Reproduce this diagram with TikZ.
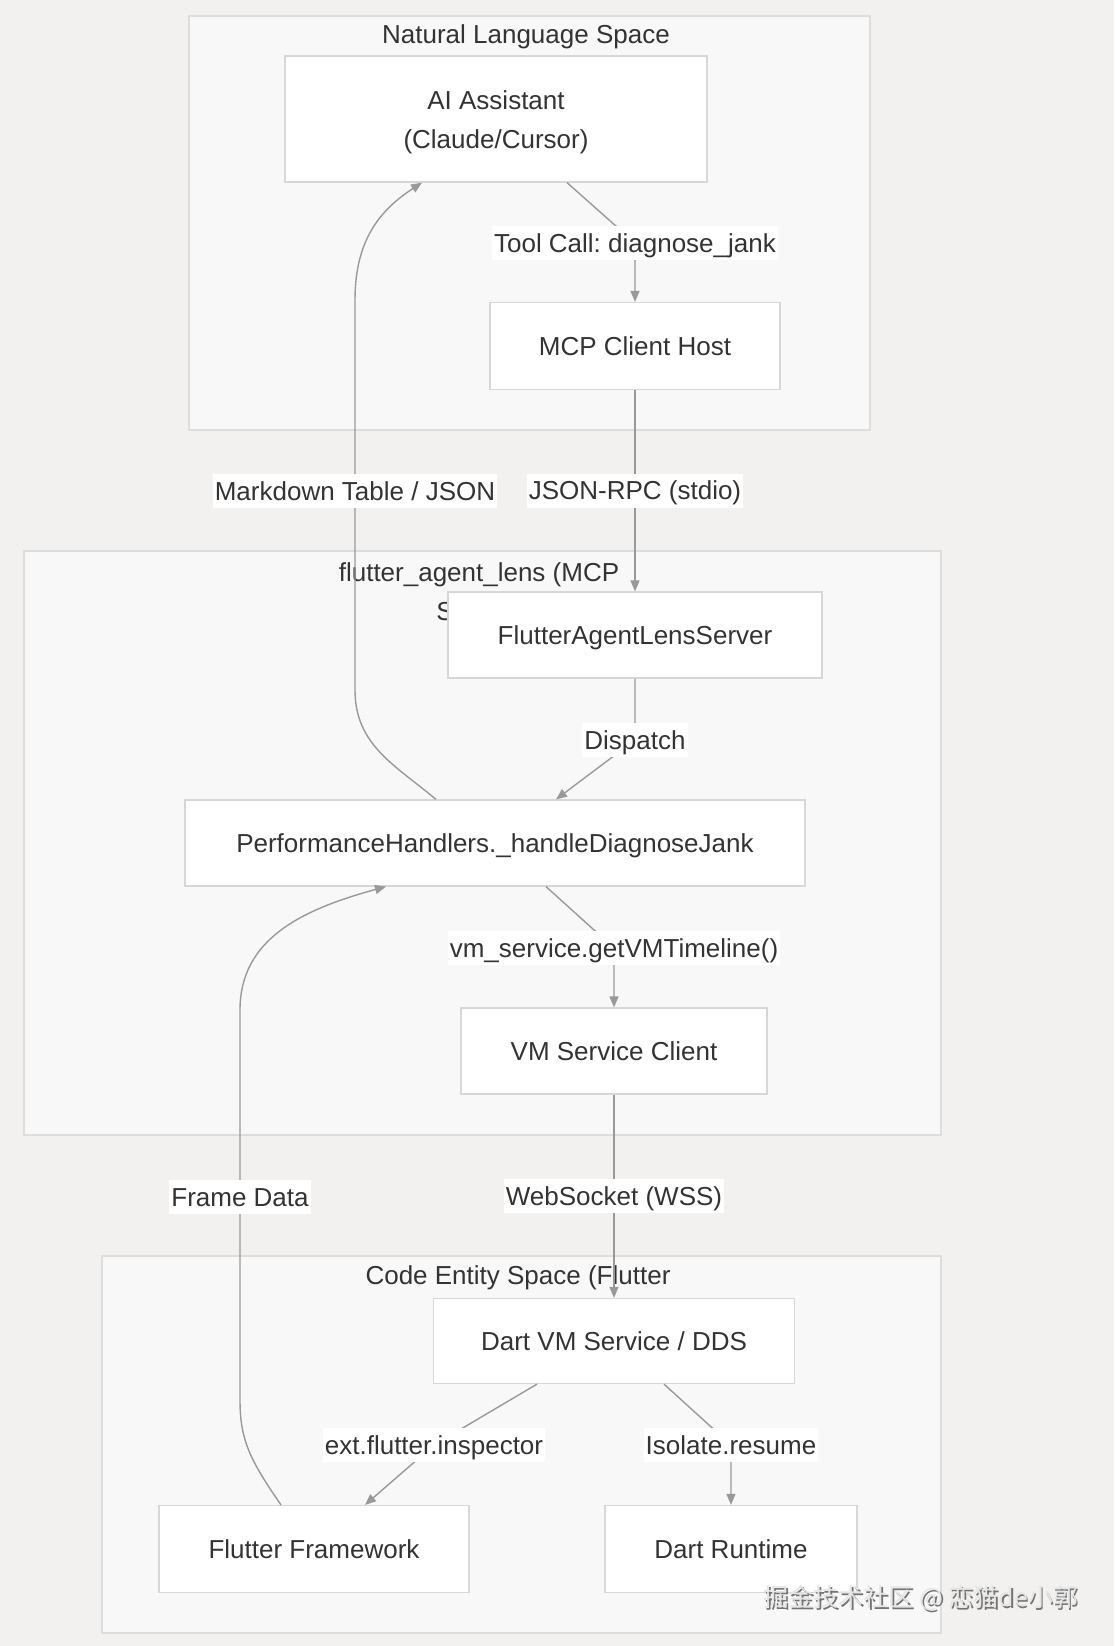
\documentclass[tikz,border=0pt]{standalone}
\usepackage{fontspec}
\setmainfont{Liberation Sans}
\newfontfamily\cjk{Noto Sans CJK SC}
\usetikzlibrary{arrows.meta}
\definecolor{bgc}{RGB}{242,241,240}
\definecolor{clfill}{RGB}{248,248,248}
\definecolor{clline}{RGB}{221,221,221}
\definecolor{ndline}{RGB}{215,215,215}
\definecolor{edgec}{RGB}{153,153,153}
\definecolor{txt}{RGB}{51,51,51}
\newcommand\lowr[1]{\raisebox{-3pt}[\height][\depth]{#1}}
\frenchspacing
\begin{document}
\begin{tikzpicture}[x=1pt,y=-1pt,
  every node/.style={font=\fontsize{26}{39}\selectfont, text=txt},
  box/.style={draw=ndline, fill=white, line width=1.2pt, inner sep=0pt, align=center},
  sbox/.style={box, text height=19pt, text depth=0pt},
  cluster/.style={draw=clline, fill=clfill, line width=1.2pt},
  ctitle/.style={inner sep=0pt, align=center},
  conn/.style={draw=edgec, line width=1.4pt, -{Triangle[length=11pt,width=9pt]}},
  elabel/.style={fill=white, inner xsep=2pt, inner ysep=5pt, text height=21pt, text depth=3pt}
]
\useasboundingbox (0,0) rectangle (1114,1646);
\fill[bgc] (0,0) rectangle (1114,1646);

% clusters
\draw[cluster] (189,16) rectangle (870,430);
\draw[cluster] (24,551) rectangle (941,1135);
\draw[cluster] (102,1256) rectangle (941,1633);

\node[ctitle] (tA) at (526,37) {Natural Language Space};
\node[ctitle] (tB) at (479,594) {flutter\_agent\_lens (MCP\\Server)};
\node[ctitle] (tC) at (518,1278) {Code Entity Space (Flutter};

% nodes
\node[box, minimum width=422pt, minimum height=126pt] (ai) at (496,119) {\lowr{AI Assistant}\\\lowr{(Claude/Cursor)}};
\node[sbox, minimum width=290pt, minimum height=87pt] (mcp) at (635,346) {MCP Client Host};
\node[sbox, minimum width=374pt, minimum height=86pt] (srv) at (635,635) {FlutterAgentLensServer};
\node[sbox, minimum width=620pt, minimum height=86pt] (ph) at (495,843) {PerformanceHandlers.\_handleDiagnoseJank};
\node[sbox, minimum width=306pt, minimum height=86pt] (vmc) at (614,1051) {VM Service Client};
\node[sbox, minimum width=361pt, minimum height=85pt] (dvm) at (614,1341) {Dart VM Service / DDS};
\node[sbox, minimum width=310pt, minimum height=87pt] (ff) at (314,1549) {Flutter Framework};
\node[sbox, minimum width=252pt, minimum height=87pt] (dr) at (731,1549) {Dart Runtime};

% connectors
\draw[conn] ([xshift=71pt]ai.south) -- (635,243) node[elabel] (l1) {Tool Call: diagnose\_jank} -- (mcp.north);
\draw[conn] (mcp.south) -- node[elabel] (l2) {JSON-RPC (stdio)} (srv.north);
\draw[conn] (srv.south) -- (635,740) node[elabel] (l3) {Dispatch} -- ([xshift=61pt]ph.north);
\draw[conn] ([xshift=-59pt]ph.north) .. controls (395,765) and (355,745) .. (355,690) -- (355,491) node[elabel] (l4) {Markdown Table / JSON} -- (355,300) .. controls (355,240) and (380,210) .. ([xshift=-74pt]ai.south);
\draw[conn] ([xshift=51pt]ph.south) -- (614,948) node[elabel] (l5) {vm\_service.getVMTimeline()} -- (vmc.north);
\draw[conn] (vmc.south) -- node[elabel] (l6) {WebSocket (WSS)} (dvm.north);
\draw[conn] ([xshift=-77pt]dvm.south) -- (434,1445) node[elabel] (l7) {ext.flutter.inspector} -- ([xshift=51pt]ff.north);
\draw[conn] ([xshift=50pt]dvm.south) -- (731,1445) node[elabel] (l8) {Isolate.resume} -- (dr.north);
\draw[conn] ([xshift=-33pt]ff.north) .. controls (250,1460) and (240,1440) .. (240,1400) -- (240,1197) node[elabel] (l9) {Frame Data} -- (240,1010) .. controls (240,940) and (300,910) .. ([xshift=-109pt]ph.south);

% watermark
\node[font=\cjk\fontsize{25}{30}\selectfont, text=black!55] (wms) at (922.5,1599.5) {掘金技术社区 @ 恋猫de小郭};
\node[font=\cjk\fontsize{25}{30}\selectfont, text=black!10] (wm) at (921,1598) {掘金技术社区 @ 恋猫de小郭};
\end{tikzpicture}
\end{document}
